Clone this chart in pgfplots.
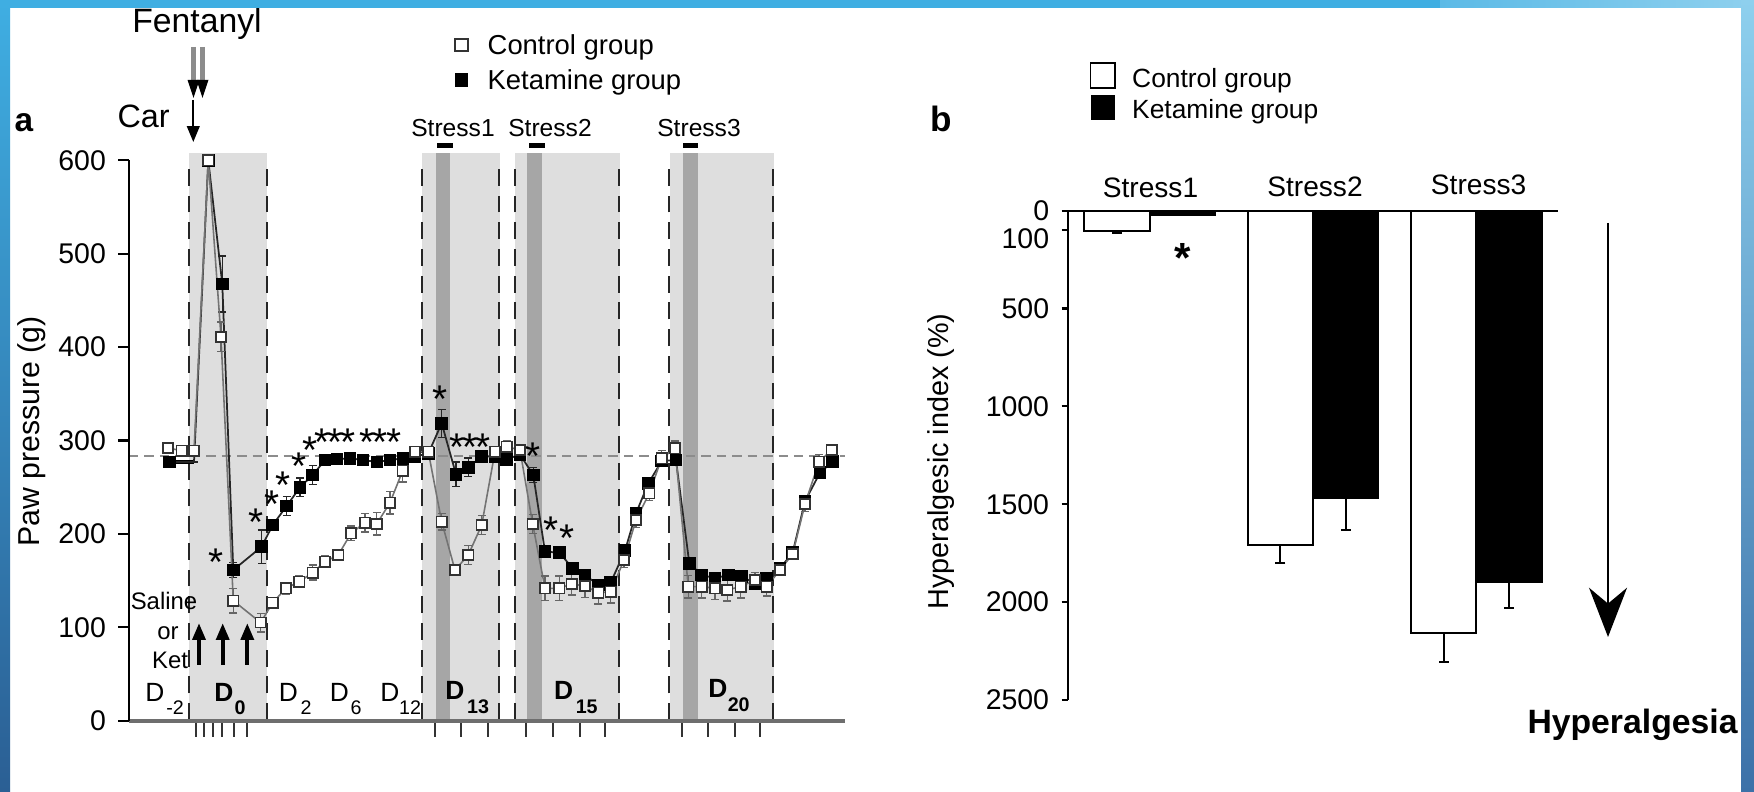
\documentclass[border=0pt]{standalone}
\usepackage{fontspec}
\setmainfont{Liberation Sans}
\usepackage{pgfplots}
\usepackage{pgfplotstable}
\pgfplotsset{compat=1.18}
\usetikzlibrary{arrows.meta}

\definecolor{shadelight}{HTML}{DEDEDE}
\definecolor{shadedark}{HTML}{A6A6A6}
\definecolor{axgray}{HTML}{6E6E6E}
\definecolor{bluetop}{HTML}{3FAEE2}
\definecolor{blueleftbot}{HTML}{2B5F94}
\definecolor{bluerighttop}{HTML}{8ED0EE}
\definecolor{bluerightmid}{HTML}{6FA9D2}
\definecolor{bluerightbot}{HTML}{3C71A8}

\newcommand\fs[1]{\fontsize{#1}{#1}\selectfont}

% Paw pressure time course (x: time position, y: grams, e: SEM)
\pgfplotstableread{
x y e
168 292 5
181.7 289 4
194 289 4
208.3 600 0
221 411 16
233.3 128.5 13
260.7 105 10
272.7 126.4 5
286 141.7 6
299.3 148.8 6
312.7 158.5 8
325 170.2 6
338.3 177.4 5
351 200.6 8
365 212 10
376.7 210.6 12
390 233.4 12
402.7 267.7 12
415 288 5
428.3 288 5
441.7 213 9
455 161.3 6
468.3 177.4 10
481.7 209.5 10
495 288 5
506.7 293.4 6
520 289.8 5
532.7 210.6 10
545 141.7 13
559.3 141.7 13
571.7 146.4 12
585 144.2 12
598.3 137 12
610.7 138.1 12
624 172 8
636 214.9 8
649.3 243.5 8
661.7 281 8
675 291.6 8
688.3 143.5 12
701.7 143.5 12
715 141.8 12
727.3 140 12
740.7 143.5 12
755 150.6 8
766.7 143.5 10
780 161.3 6
792.7 178.5 6
805 232 8
819 277.3 8
831.7 289.8 6
}\ctrl

\pgfplotstableread{
x y e
169.3 277 0
181.7 277 0
194 277 0
208.3 600 0
222.3 467.5 30
233.3 161.3 8
261.7 186.3 18
272.7 209.5 6
286.7 229.9 10
300 249.9 10
312.7 263 10
325 279 5
337 280 5
350 281 5
363 279 5
377 277 5
390 279 5
403 281 5
415 283 4
428.3 286 4
441.7 318.4 15
456 263.8 13
468.3 271.3 10
481.7 282.7 6
495 283 5
506.7 279.9 5
520 285 5
533.3 263 8
545 181 6
559.3 179.9 6
572.7 163.2 6
585 156 6
598.3 145.3 5
610.7 147.8 5
625 182 6
636 222 6
648.3 254 6
661.7 278 6
676 279 6
689.3 168.5 6
701.7 156 5
715 152.5 5
728.3 156 5
741.7 154.2 5
755 147 5
766.7 152.5 5
780 163 5
792.7 180 5
805 235 5
820 265.5 6
832.7 277.3 6
}\ket

% Hyperalgesic index per stress session
\pgfplotstableread{
x c ce k ke
1 102 10 20 0
2 1707 93 1467 164
3 2157 149 1897 133
}\hyper

% significance asterisk centred on a point (box trimmed to the glyph)
\newcommand\st[2]{\node[font=\fs{11}, inner sep=0pt] at (axis cs:#1,#2) {\raisebox{-0.44em}[0.28em][0pt]{*}};}

\begin{document}
\begin{tikzpicture}
\fill[white] (0,0) rectangle (17.54cm,7.92cm);
\path[use as bounding box] (0,0) rectangle (17.54cm,7.92cm);

% ---- background of panel a: experimental periods
\begin{scope}[x=0.1mm,y=-0.1mm,yshift=7.92cm]
  \fill[shadelight] (189,153.5) rectangle (267,720);
  \fill[shadelight] (422,153.5) rectangle (499.5,720);
  \fill[shadelight] (515,153.5) rectangle (620,720);
  \fill[shadelight] (669.5,153.5) rectangle (774,720);
  \fill[shadedark] (436,153.5) rectangle (450,720);
  \fill[shadedark] (527,153.5) rectangle (542,720);
  \fill[shadedark] (683,153.5) rectangle (698,720);
  \foreach \xx in {188.7,266.7,421.7,499,515,619,669.3,773.3}
    \draw[black!85, line width=0.55pt, dash pattern=on 4.8pt off 2.8pt] (\xx,720) -- (\xx,160);
  \draw[black!45, line width=0.4pt, dash pattern=on 2.7pt off 1.7pt] (129,456) -- (845,456);
  % time-point ticks below the axis
  \foreach \xx in {196,204,213,222,234,247,435,461,488,526,553,580,605,682,708,735,760}
    \draw[black!80, line width=0.6pt] (\xx,722) -- (\xx,737);
\end{scope}

% ---- panel a: paw pressure
\begin{axis}[
  at={(4.87cm,3.515cm)}, anchor=center,
  scale only axis, width=7.16cm, height=5.604cm,
  xmin=129, xmax=845, ymin=0, ymax=600,
  clip=false, axis on top,
  axis x line*=bottom, axis y line*=left,
  x axis line style={draw=axgray, line width=1.1pt},
  y axis line style={draw=black, line width=0.65pt},
  xtick=\empty,
  ytick={0,100,200,300,400,500,600},
  tick align=outside, major tick length=1.07mm,
  ytick style={draw=black, line width=0.65pt},
  yticklabel style={font=\fs{8.1}},
  /pgf/number format/assume math mode=true,
]
% baseline segment of the ketamine group before surgery
\addplot[black, line width=1.2pt, forget plot] table[x=x, y=y, restrict expr to domain={\coordindex}{0:2}] {\ket};
\addplot[draw=black!85, line width=0.5pt, mark=square*, mark size=1.55pt,
  mark indices={1,4,5,6,7,8,9,10,11,12,13,14,15,16,17,18,19,20,21,22,23,24,25,26,27,28,29,30,31,32,33,34,35,36,37,38,39,40,41,42,43,44,45,46,47,48,49,50,51},
  mark options={fill=black, draw=black, solid},
  error bars/.cd, y dir=both, y explicit,
  error bar style={black!85, line width=0.35pt},
  error mark options={rotate=90, mark size=1.1pt, black!85}]
  table[x=x, y=y, y error=e] {\ket};
\addplot[draw=black!55, line width=0.45pt, mark=square*, mark size=1.45pt,
  mark options={fill=white, draw=black!80, line width=0.45pt, solid},
  error bars/.cd, y dir=both, y explicit,
  error bar style={black!60, line width=0.35pt},
  error mark options={rotate=90, mark size=1.1pt, black!60}]
  table[x=x, y=y, y error=e] {\ctrl};
% significance marks
\st{216}{179.2}
\st{256}{222}
\st{271.7}{241.6}
\st{282.7}{262}
\st{299.3}{282}
\st{310.5}{299}
\st{322}{307.7}
\st{335}{307.7}
\st{348}{307.7}
\st{367}{307.7}
\st{380}{307.7}
\st{394}{307.7}
\st{440}{354}
\st{456.7}{302.4}
\st{470}{302.4}
\st{483.3}{302.4}
\st{533.3}{293.4}
\st{550.7}{214.1}
\st{566.7}{204.9}
\end{axis}

% ---- panel b: hyperalgesic index
\begin{axis}[
  at={(13.13cm,3.3665cm)}, anchor=center,
  scale only axis, width=4.9cm, height=4.893cm,
  xmin=0.5, xmax=3.5, ymin=0, ymax=2500, y dir=reverse,
  clip=false,
  ybar, bar width=0.4,
  axis x line=none, axis y line*=left,
  y axis line style={draw=black, line width=0.6pt},
  xtick=\empty,
  ytick={0,500,1000,1500,2000,2500},
  extra y ticks={100},
  extra y tick style={yticklabel style={yshift=-2.5pt}},
  tick align=outside, major tick length=0.65mm,
  ytick style={draw=black, line width=0.6pt},
  yticklabel style={font=\fs{8.1}},
  /pgf/number format/assume math mode=true,
  /pgf/number format/1000 sep={},
]
\addplot[bar shift=-0.2, fill=white, draw=black, line width=0.6pt,
  error bars/.cd, y dir=plus, y explicit,
  error bar style={line width=0.6pt, black},
  error mark options={rotate=90, mark size=1.4pt, line width=0.6pt, black}]
  table[x=x, y=c, y error=ce] {\hyper};
\addplot[bar shift=0.2, fill=black, draw=black, line width=0.6pt,
  error bars/.cd, y dir=plus, y explicit,
  error bar style={line width=0.6pt, black},
  error mark options={rotate=90, mark size=1.4pt, line width=0.6pt, black}]
  table[x=x, y=k, y error=ke] {\hyper};
\draw[black, line width=0.6pt] (axis cs:0.5,0) -- (axis cs:3.5,0);
\node[font=\bfseries\fs{12}, inner sep=0pt] at (axis cs:1.2,190) {\raisebox{-0.44em}[0.28em][0pt]{*}};
\end{axis}

% ---- annotations
\begin{scope}[x=0.1mm,y=-0.1mm,yshift=7.92cm]
  % panel letters
  \node[font=\bfseries\fs{9.5}, anchor=base, inner sep=0pt] at (24,131.5) {a};
  \node[font=\bfseries\fs{10}, anchor=base, inner sep=0pt] at (941,131.5) {b};
  % axis title of panel a
  \node[font=\fs{8.6}, rotate=90] at (32,431.5) {Paw pressure (g)};
  % drug administration
  \node[font=\fs{9.6}, anchor=base] at (197,32.5) {Fentanyl};
  \draw[black!45, line width=1.2pt] (193.6,47) -- (193.6,84);
  \draw[black!45, line width=1.2pt] (202.4,47) -- (202.4,84);
  \fill[black] (187.5,80) -- (199.5,80) -- (193.5,98) -- cycle;
  \fill[black] (196.5,80) -- (208.5,80) -- (202.5,98) -- cycle;
  \node[font=\fs{9.2}, anchor=base] at (143.7,127.5) {Car};
  \draw[black, line width=0.5pt, -{Triangle[length=4.5pt, width=3.6pt]}] (193.3,100) -- (193.3,142);
  % legend of panel a
  \node[draw=black!80, fill=white, line width=0.45pt, minimum size=1.25mm, inner sep=0pt] at (461.5,45) {};
  \node[fill=black, minimum size=1.35mm, inner sep=0pt] at (461.5,80) {};
  \node[anchor=base west, font=\fs{7.8}, inner sep=0pt] at (487,55) {Control group};
  \node[anchor=base west, font=\fs{7.8}, inner sep=0pt] at (487,89.3) {Ketamine group};
  % stress sessions
  \foreach \xx/\lab in {453/Stress1, 550/Stress2, 699/Stress3}
    \node[font=\fs{7}, anchor=base, inner sep=0pt] at (\xx,136.5) {\lab};
  \draw[black, line width=0.5mm] (437,146) -- (453,146);
  \draw[black, line width=0.5mm] (529,146) -- (545,146);
  \draw[black, line width=0.5mm] (683,146) -- (698,146);
  % saline or ketamine injections
  \node[font=\fs{6.8}, anchor=base, inner sep=0pt] at (164,610) {Saline};
  \node[font=\fs{6.8}, anchor=base, inner sep=0pt] at (168,639.3) {or};
  \node[font=\fs{6.8}, anchor=base, inner sep=0pt] at (170,668.3) {Ket};
  \foreach \xx in {199,222.7,247.3}
    \draw[black, line width=1.15pt, -{Triangle[length=4.8pt, width=3.6pt]}] (\xx,665) -- (\xx,623);
  % day labels
  \node[font=\fs{7.5}] at (155,692) {D};   \node[font=\fs{5.6}] at (175,708) {-2};
  \node[font=\bfseries\fs{7.5}] at (224,692) {D}; \node[font=\bfseries\fs{5.6}] at (240,708) {0};
  \node[font=\fs{7.5}] at (288.5,692) {D}; \node[font=\fs{5.6}] at (306,708) {2};
  \node[font=\fs{7.5}] at (339.5,692) {D}; \node[font=\fs{5.6}] at (356,708) {6};
  \node[font=\fs{7.5}] at (390,692) {D};   \node[font=\fs{5.6}] at (410,708) {12};
  \node[font=\bfseries\fs{7.5}] at (455,690) {D}; \node[font=\bfseries\fs{5.6}] at (478,707) {13};
  \node[font=\bfseries\fs{7.5}] at (563.7,690) {D}; \node[font=\bfseries\fs{5.6}] at (586.7,707) {15};
  \node[font=\bfseries\fs{7.5}] at (717.8,688) {D}; \node[font=\bfseries\fs{5.6}] at (738.7,705) {20};

  % panel b texts
  \draw[black, fill=white, line width=0.5pt] (1090.6,63.3) rectangle (1115.1,88.3);
  \fill[black] (1090.6,95) rectangle (1115.1,120);
  \node[anchor=base west, font=\fs{7.5}, inner sep=0pt] at (1131.5,87.3) {Control group};
  \node[anchor=base west, font=\fs{7.5}, inner sep=0pt] at (1131.5,118.3) {Ketamine group};
  \node[font=\fs{8}] at (1150.5,188.3) {Stress1};
  \node[font=\fs{8}] at (1315,187) {Stress2};
  \node[font=\fs{8}] at (1478.6,185) {Stress3};
  \node[font=\fs{8.2}, rotate=90] at (941,461.5) {Hyperalgesic index (\%)};
  \draw[black, line width=0.6pt, -{Stealth[length=14pt, width=10.8pt, inset=4.5pt]}] (1608,223) -- (1608,637);
  \node[font=\bfseries\fs{9.6}, anchor=base, inner sep=0pt] at (1632.5,734) {Hyperalgesia};
\end{scope}

% ---- slide frame
\shade[top color=bluetop, bottom color=blueleftbot] (0,0) rectangle (0.1cm,7.92cm);
\fill[bluetop] (0,7.84cm) rectangle (14.4cm,7.92cm);
\shade[left color=bluetop!85!white, right color=bluerighttop] (14.4cm,7.84cm) rectangle (17.54cm,7.92cm);
\shade[top color=bluerighttop, middle color=bluerightmid, bottom color=bluerightbot] (17.41cm,0) rectangle (17.54cm,7.92cm);
\end{tikzpicture}
\end{document}
